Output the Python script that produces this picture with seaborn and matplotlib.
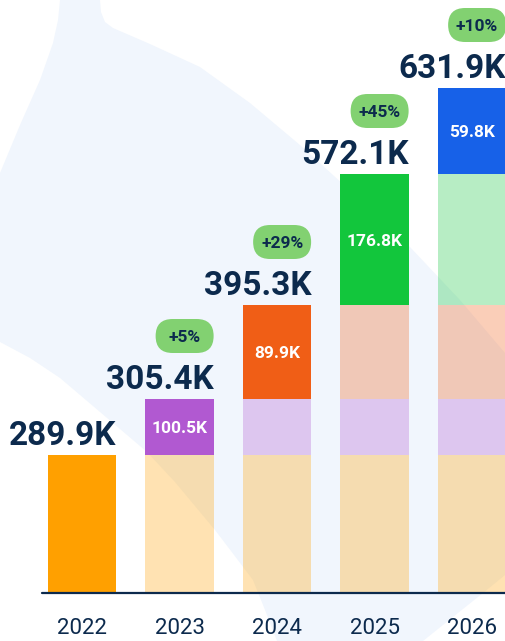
import numpy as np
import matplotlib
matplotlib.use("Agg")
import matplotlib.pyplot as plt
import seaborn as sns
from matplotlib.patches import FancyBboxPatch, Polygon
from matplotlib.transforms import IdentityTransform

years = ["2022", "2023", "2024", "2025", "2026"]
totals = ["289.9K", "305.4K", "395.3K", "572.1K", "631.9K"]
added = ["", "100.5K", "89.9K", "176.8K", "59.8K"]
growth = ["", "+5%", "+29%", "+45%", "+10%"]
# drawn height of each year's new layer (picture is not to scale)
layer_height = [138, 56, 94, 131, 86]
layer_color = ["#FFA000", "#B159D1", "#F05E16", "#12C63C", "#1761E8"]

NAVY = "#0C2A4D"
BADGE = "#82D171"
W, H = 505, 641

sns.set_theme(style="white")
plt.rcParams["font.family"] = ["Roboto", "DejaVu Sans"]

fig = plt.figure(figsize=(W / 100, H / 100), dpi=100)
ax = fig.add_axes([0, 0, 1, 1])

# light blue swoosh in the background (pixel coords, y down)
swoosh = [(60, 0), (100, 0), (101, 12), (105, 22), (113, 28), (150, 44), (200, 67),
          (250, 103), (300, 145), (355, 195), (410, 247), (460, 300), (505, 353),
          (520, 353), (520, 570), (505, 575), (483, 593), (423, 641), (277, 641),
          (265, 610), (253, 580), (215, 530), (175, 482), (147, 452), (100, 412),
          (60, 378), (30, 358), (0, 342), (-10, 342), (-10, 173), (0, 173),
          (20, 125), (40, 80), (53, 43), (58, 20)]
ax.add_patch(Polygon([(x / W, 1 - y / H) for x, y in swoosh], closed=True,
                     transform=fig.transFigure, facecolor="#F1F6FD",
                     edgecolor="none", zorder=0))

bottoms = np.concatenate([[0], np.cumsum(layer_height)[:-1]])
for k in range(len(years)):
    n0 = len(ax.patches)
    sns.barplot(x=years[k:], y=[layer_height[k]] * (len(years) - k), order=years,
                color=layer_color[k], saturation=1, width=0.7, errorbar=None,
                bottom=bottoms[k], linewidth=0, ax=ax, zorder=2)
    for p in ax.patches[n0:]:
        if abs(p.get_x() + p.get_width() / 2 - k) > 0.01:
            p.set_alpha(0.3)
    if added[k]:
        ax.text(k, bottoms[k] + layer_height[k] / 2, added[k], ha="center",
                va="center_baseline", color="white", fontsize=12.5,
                fontweight="bold", zorder=4)

tops = np.cumsum(layer_height)
ax.set_xlim(-82 / 97.5, (W - 82) / 97.5)
ax.set_ylim(-(H - 593), 593)
ax.set_axis_off()

ax.axhline(0, xmin=42 / W, xmax=1, color=NAVY, lw=1.6, zorder=5)

for i, yr in enumerate(years):
    ax.annotate(yr, xy=(i, 0), xytext=(0, -25.2), textcoords="offset points",
                ha="center", va="center", fontsize=16, color=NAVY,
                annotation_clip=False)
    ax.annotate(totals[i], xy=(i + 0.35, tops[i]), xytext=(0, 7),
                textcoords="offset points", ha="right", va="baseline",
                fontsize=24, fontweight="bold", color=NAVY,
                annotation_clip=False)
    if growth[i]:
        rx, ty = ax.transData.transform((i + 0.35, tops[i]))
        bx0, by0 = rx - 58, ty + 46
        ax.add_patch(FancyBboxPatch((bx0, by0), 58, 34,
                                    boxstyle="round,pad=0,rounding_size=17",
                                    transform=IdentityTransform(),
                                    facecolor=BADGE, edgecolor="none", zorder=6))
        ax.text(bx0 + 29, by0 + 17, growth[i], transform=IdentityTransform(),
                ha="center", va="center_baseline", fontsize=12.5,
                fontweight="bold", color=NAVY, zorder=7)

fig.savefig("out.png", dpi=100, facecolor="white")
